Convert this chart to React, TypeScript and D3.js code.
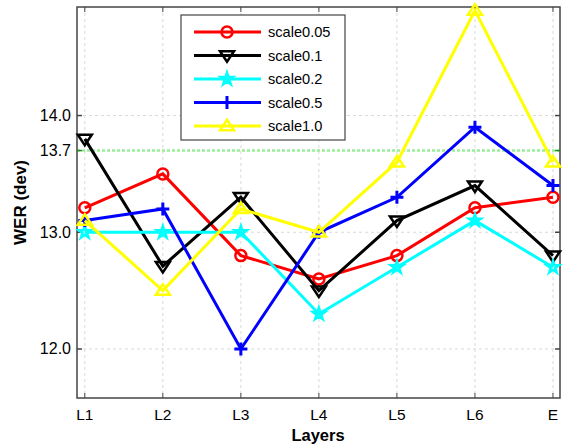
import React from "react";
import * as d3 from "d3";

const categories = ["L1", "L2", "L3", "L4", "L5", "L6", "E"];
const seriesNames = ["scale0.05", "scale0.1", "scale0.2", "scale0.5", "scale1.0"];
const s005 = [13.21, 13.5, 12.8, 12.6, 12.8, 13.21, 13.3];
const s01 = [13.8, 12.71, 13.3, 12.5, 13.1, 13.4, 12.8];
const s02 = [13.0, 13.0, 13.0, 12.3, 12.7, 13.1, 12.7];
const s05 = [13.1, 13.2, 12.0, 13.0, 13.3, 13.9, 13.4];
const s10 = [13.1, 12.5, 13.2, 13.0, 13.6, 14.9, 13.6];
const yTicks = [12.0, 13.0, 13.7, 14.0];
const refLine = 13.7;

const colors = ["#ff0000", "#000000", "#00ffff", "#0000ff", "#ffff00"];
const markers = ["circle", "triDown", "star", "plus", "triUp"];
const allSeries = [s005, s01, s02, s05, s10];

const W = 563, H = 445;
const L = 77, R = 560, T = 7, B = 398;

function Marker({ kind, x, y, color }: { kind: string; x: number; y: number; color: string }) {
  const sw = 2.5;
  if (kind === "circle") return <circle cx={x} cy={y} r={5.5} fill="none" stroke={color} strokeWidth={sw} />;
  if (kind === "triDown") {
    const s = 7;
    return <path d={`M${x - s},${y - s * 0.6}L${x + s},${y - s * 0.6}L${x},${y + s * 0.9}Z`} fill="none" stroke={color} strokeWidth={sw} />;
  }
  if (kind === "triUp") {
    const s = 7;
    return <path d={`M${x - s},${y + s * 0.6}L${x + s},${y + s * 0.6}L${x},${y - s * 0.9}Z`} fill="none" stroke={color} strokeWidth={sw} />;
  }
  if (kind === "plus") {
    const s = 6.5;
    return <path d={`M${x - s},${y}L${x + s},${y}M${x},${y - s}L${x},${y + s}`} stroke={color} strokeWidth={sw + 0.5} />;
  }
  const sym = d3.symbol(d3.symbolStar, 45)();
  return <path d={sym || ""} transform={`translate(${x},${y})`} fill="none" stroke={color} strokeWidth={sw} />;
}

export default function App() {
  const x = d3.scaleLinear().domain([0.9, 7.09]).range([L, R]);
  const y = d3.scaleLinear().domain([11.58, 14.93]).range([B, T]);
  const line = d3.line<number>().x((_, i) => x(i + 1)).y((d) => y(d));
  const font = "'Liberation Sans', Arial, sans-serif";
  const axisCol = "#444";
  const legX = 181, legY = 15, legW = 164, legH = 125;
  const entryYs = seriesNames.map((_, i) => 32 + i * 23.5);

  return (
    <svg width={W} height={H} style={{ position: "absolute", left: 0, top: 0, background: "#fff" }} fontFamily={font}>
      <rect x={0} y={0} width={W} height={H} fill="#fff" />
      {categories.map((_, i) => (
        <line key={"gx" + i} x1={x(i + 1)} x2={x(i + 1)} y1={T} y2={B} stroke="#d9d9d9" strokeWidth={1} strokeDasharray="3,3" />
      ))}
      {yTicks.filter((t) => t !== refLine).map((t) => (
        <line key={"gy" + t} x1={L} x2={R} y1={y(t)} y2={y(t)} stroke="#d9d9d9" strokeWidth={1} strokeDasharray="3,3" />
      ))}
      <line x1={L} x2={R} y1={y(refLine)} y2={y(refLine)} stroke="#99ee99" strokeWidth={2.5} strokeDasharray="3,2" />
      <rect x={L} y={T} width={R - L} height={B - T} fill="none" stroke={axisCol} strokeWidth={1.5} />
      {categories.map((c, i) => (
        <g key={"tx" + i}>
          <line x1={x(i + 1)} x2={x(i + 1)} y1={B} y2={B - 5} stroke={axisCol} strokeWidth={1} />
          <line x1={x(i + 1)} x2={x(i + 1)} y1={T} y2={T + 5} stroke={axisCol} strokeWidth={1} />
          <text x={x(i + 1)} y={420} textAnchor="middle" fontSize={15.5} fill="#000">{c}</text>
        </g>
      ))}
      {yTicks.map((t) => (
        <g key={"ty" + t}>
          <line x1={L} x2={L + 5} y1={y(t)} y2={y(t)} stroke={t === refLine ? "#228b22" : axisCol} strokeWidth={1.5} />
          <line x1={R} x2={R - 5} y1={y(t)} y2={y(t)} stroke={t === refLine ? "#228b22" : axisCol} strokeWidth={1.5} />
          <text x={71} y={y(t) + 5.5} textAnchor="end" fontSize={16} fill="#000">{t.toFixed(1)}</text>
        </g>
      ))}
      {allSeries.map((s, k) => (
        <g key={"s" + k}>
          <path d={line(s) || ""} fill="none" stroke={colors[k]} strokeWidth={3} />
          {s.map((v, i) => (
            <Marker key={i} kind={markers[k]} x={x(i + 1)} y={y(v)} color={colors[k]} />
          ))}
        </g>
      ))}
      <rect x={legX} y={legY} width={legW} height={legH} fill="#fff" stroke={axisCol} strokeWidth={1.2} />
      {seriesNames.map((n, k) => (
        <g key={"l" + k}>
          <line x1={194} x2={261} y1={entryYs[k]} y2={entryYs[k]} stroke={colors[k]} strokeWidth={3} />
          <Marker kind={markers[k]} x={227} y={entryYs[k]} color={colors[k]} />
          <text x={268} y={entryYs[k] + 5} fontSize={14.6} fill="#000">{n}</text>
        </g>
      ))}
      <text x={318} y={441} textAnchor="middle" fontSize={16.5} fontWeight="bold" fill="#000">Layers</text>
      <text transform={`translate(26,${(T + B) / 2}) rotate(-90)`} textAnchor="middle" fontSize={17} fontWeight="bold" fill="#000">WER (dev)</text>
    </svg>
  );
}
